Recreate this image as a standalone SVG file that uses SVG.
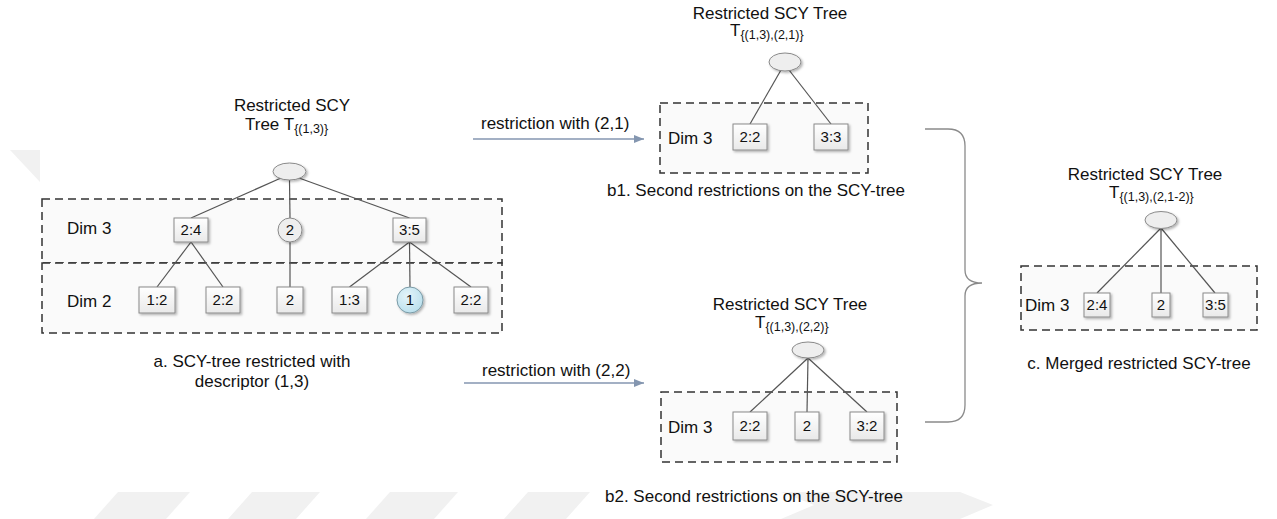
<svg xmlns="http://www.w3.org/2000/svg" width="1277" height="519" viewBox="0 0 1277 519">
  <defs>
    <linearGradient id="boxFill" x1="0" y1="0" x2="0" y2="1">
      <stop offset="0" stop-color="#ffffff"/>
      <stop offset="1" stop-color="#e9e9e9"/>
    </linearGradient>
    <radialGradient id="blueFill" cx="0.4" cy="0.35" r="0.7">
      <stop offset="0" stop-color="#e4f4fa"/>
      <stop offset="1" stop-color="#b9dfec"/>
    </radialGradient>
    <filter id="shadow" x="-30%" y="-30%" width="170%" height="170%">
      <feDropShadow dx="1.5" dy="1.5" stdDeviation="1" flood-color="#000" flood-opacity="0.3"/>
    </filter>
    <marker id="arrowHead" viewBox="0 0 10 8" refX="10" refY="4" markerWidth="10" markerHeight="8" markerUnits="userSpaceOnUse" orient="auto">
      <path d="M0,0 L10,4 L0,8 Z" fill="#8496b0"/>
    </marker>
  </defs>
  <style>
    text { font-family: "Liberation Sans", Arial, sans-serif; fill: #111; }
    .lbl { font-size: 17px; }
    .sub { font-size: 12.5px; }
    .nl { font-size: 15px; text-anchor: middle; }
    .mid { text-anchor: middle; }
    .box { fill: url(#boxFill); stroke: #8a8a8a; stroke-width: 1; filter: url(#shadow); }
    .root { fill: #eeeeee; stroke: #8a8a8a; stroke-width: 1; filter: url(#shadow); }
    .blue { fill: url(#blueFill); stroke: #7a9aa6; stroke-width: 1; filter: url(#shadow); }
    .dim { fill: #fafafa; stroke: #333; stroke-width: 1.5; stroke-dasharray: 8 5; }
    .edge { stroke: #555; stroke-width: 1.2; fill: none; }
    .flow { stroke: #8496b0; stroke-width: 1.5; fill: none; marker-end: url(#arrowHead); }
    .brace { stroke: #8a8a8a; stroke-width: 1.3; fill: none; }
    .wm { fill: #f1f1f1; }
  </style>

  <!-- faint background band -->
  <g id="backdrop">
    <polygon class="wm" points="10,150 40,150 40,182"/>
    <polygon class="wm" points="118,492 190,492 166,519 94,519"/>
    <polygon class="wm" points="252,492 320,492 296,519 228,519"/>
    <polygon class="wm" points="390,492 458,492 434,519 366,519"/>
    <polygon class="wm" points="528,492 590,492 566,519 504,519"/>
    <polygon class="wm" points="781,492 960,492 993,505 960,519 781,519 814,505"/>
  </g>

  <!-- dimension frames -->
  <g id="frames">
    <rect class="dim" x="42" y="199" width="460" height="64"/>
    <rect class="dim" x="42" y="263" width="460" height="70"/>
    <rect class="dim" x="660" y="103" width="208" height="70"/>
    <rect class="dim" x="661" y="392" width="236" height="70"/>
    <rect class="dim" x="1021" y="266" width="236" height="64"/>
  </g>

  <!-- tree edges and flow arrows -->
  <g id="connectors">
    <line class="edge" x1="281" y1="178" x2="191" y2="218"/>
    <line class="edge" x1="289.5" y1="180" x2="290" y2="218"/>
    <line class="edge" x1="299" y1="178" x2="409.5" y2="218"/>
    <line class="edge" x1="191" y1="242" x2="157" y2="287"/>
    <line class="edge" x1="191" y1="242" x2="223" y2="287"/>
    <line class="edge" x1="290" y1="242" x2="290" y2="287"/>
    <line class="edge" x1="409.5" y1="242" x2="349.5" y2="287"/>
    <line class="edge" x1="409.5" y1="242" x2="410" y2="287"/>
    <line class="edge" x1="409.5" y1="242" x2="471" y2="287"/>

    <line class="edge" x1="781" y1="70" x2="750" y2="124"/>
    <line class="edge" x1="789" y1="70" x2="831" y2="124"/>

    <line class="edge" x1="808" y1="358" x2="750" y2="412"/>
    <line class="edge" x1="808" y1="358" x2="807" y2="412"/>
    <line class="edge" x1="808" y1="358" x2="867" y2="412"/>

    <line class="edge" x1="1161" y1="228" x2="1097" y2="293"/>
    <line class="edge" x1="1161" y1="228" x2="1161" y2="293"/>
    <line class="edge" x1="1161" y1="228" x2="1215" y2="293"/>

    <line class="flow" x1="473" y1="139" x2="644" y2="139"/>
    <line class="flow" x1="464" y1="383" x2="644" y2="383"/>

    <path class="brace" d="M925,129 L948,129 Q965,129 965,146 L965,270 Q965,283 982,283 Q965,283 965,296 L965,405 Q965,422 948,422 L925,422"/>
  </g>

  <!-- tree a -->
  <g id="tree-a-title">
    <text class="lbl mid" x="292" y="111">Restricted SCY</text>
    <text class="lbl" x="245" y="130">Tree T<tspan class="sub" dy="3">{(1,3)}</tspan></text>
  </g>
  <g id="a-root"><ellipse class="root" cx="289.5" cy="171.5" rx="16.5" ry="8.5"/></g>
  <g id="a-dim3-label"><text class="lbl" x="67" y="234">Dim 3</text></g>
  <g id="a-dim2-label"><text class="lbl" x="67" y="307">Dim 2</text></g>
  <g id="a-24"><rect class="box" x="174" y="218" width="34" height="24"/><text class="nl" x="191" y="235">2:4</text></g>
  <g id="a-2c"><circle class="root" cx="290" cy="230" r="12"/><text class="nl" x="290" y="235">2</text></g>
  <g id="a-35"><rect class="box" x="393" y="218" width="33" height="24"/><text class="nl" x="409.5" y="235">3:5</text></g>
  <g id="a-12"><rect class="box" x="139" y="287" width="36" height="26"/><text class="nl" x="157" y="305">1:2</text></g>
  <g id="a-22"><rect class="box" x="206" y="287" width="34" height="26"/><text class="nl" x="223" y="305">2:2</text></g>
  <g id="a-2b"><rect class="box" x="277" y="287" width="26" height="26"/><text class="nl" x="290" y="305">2</text></g>
  <g id="a-13"><rect class="box" x="332" y="287" width="35" height="26"/><text class="nl" x="349.5" y="305">1:3</text></g>
  <g id="a-1"><circle class="blue" cx="410" cy="300" r="13"/><text class="nl" x="410" y="305">1</text></g>
  <g id="a-22b"><rect class="box" x="454" y="287" width="34" height="26"/><text class="nl" x="471" y="305">2:2</text></g>
  <g id="a-caption">
    <text class="lbl mid" x="252" y="367">a. SCY-tree restricted with</text>
    <text class="lbl mid" x="252" y="387">descriptor (1,3)</text>
  </g>

  <!-- flow labels -->
  <g id="flow-label-1"><text class="lbl" x="481" y="129">restriction with (2,1)</text></g>
  <g id="flow-label-2"><text class="lbl" x="482" y="376">restriction with (2,2)</text></g>

  <!-- tree b1 -->
  <g id="tree-b1-title">
    <text class="lbl mid" x="770" y="19">Restricted SCY Tree</text>
    <text class="lbl" x="730" y="36">T<tspan class="sub" dy="3">{(1,3),(2,1)}</tspan></text>
  </g>
  <g id="b1-root"><ellipse class="root" cx="785" cy="62" rx="16" ry="9"/></g>
  <g id="b1-dim3-label"><text class="lbl" x="668" y="144">Dim 3</text></g>
  <g id="b1-22"><rect class="box" x="733" y="124" width="34" height="26"/><text class="nl" x="750" y="142">2:2</text></g>
  <g id="b1-33"><rect class="box" x="814" y="124" width="34" height="26"/><text class="nl" x="831" y="142">3:3</text></g>
  <g id="b1-caption"><text class="lbl" x="607" y="196">b1. Second restrictions on the SCY-tree</text></g>

  <!-- tree b2 -->
  <g id="tree-b2-title">
    <text class="lbl mid" x="790" y="310">Restricted SCY Tree</text>
    <text class="lbl" x="755" y="328">T<tspan class="sub" dy="3">{(1,3),(2,2)}</tspan></text>
  </g>
  <g id="b2-root"><ellipse class="root" cx="808" cy="350" rx="16" ry="8"/></g>
  <g id="b2-dim3-label"><text class="lbl" x="668" y="433">Dim 3</text></g>
  <g id="b2-22"><rect class="box" x="733" y="412" width="34" height="28"/><text class="nl" x="750" y="431">2:2</text></g>
  <g id="b2-2"><rect class="box" x="795" y="412" width="24" height="28"/><text class="nl" x="807" y="431">2</text></g>
  <g id="b2-32"><rect class="box" x="850" y="412" width="34" height="28"/><text class="nl" x="867" y="431">3:2</text></g>
  <g id="b2-caption"><text class="lbl" x="605" y="502">b2. Second restrictions on the SCY-tree</text></g>

  <!-- tree c -->
  <g id="tree-c-title">
    <text class="lbl mid" x="1145" y="180">Restricted SCY Tree</text>
    <text class="lbl" x="1109" y="198">T<tspan class="sub" dy="3">{(1,3),(2,1-2)}</tspan></text>
  </g>
  <g id="c-root"><ellipse class="root" cx="1161" cy="220" rx="16" ry="8.5"/></g>
  <g id="c-dim3-label"><text class="lbl" x="1025" y="311">Dim 3</text></g>
  <g id="c-24"><rect class="box" x="1084" y="293" width="26" height="24"/><text class="nl" x="1097" y="310">2:4</text></g>
  <g id="c-2"><rect class="box" x="1152" y="293" width="18" height="24"/><text class="nl" x="1161" y="310">2</text></g>
  <g id="c-35"><rect class="box" x="1203" y="293" width="25" height="24"/><text class="nl" x="1215.5" y="310">3:5</text></g>
  <g id="c-caption"><text class="lbl mid" x="1139" y="369">c. Merged restricted SCY-tree</text></g>
</svg>
